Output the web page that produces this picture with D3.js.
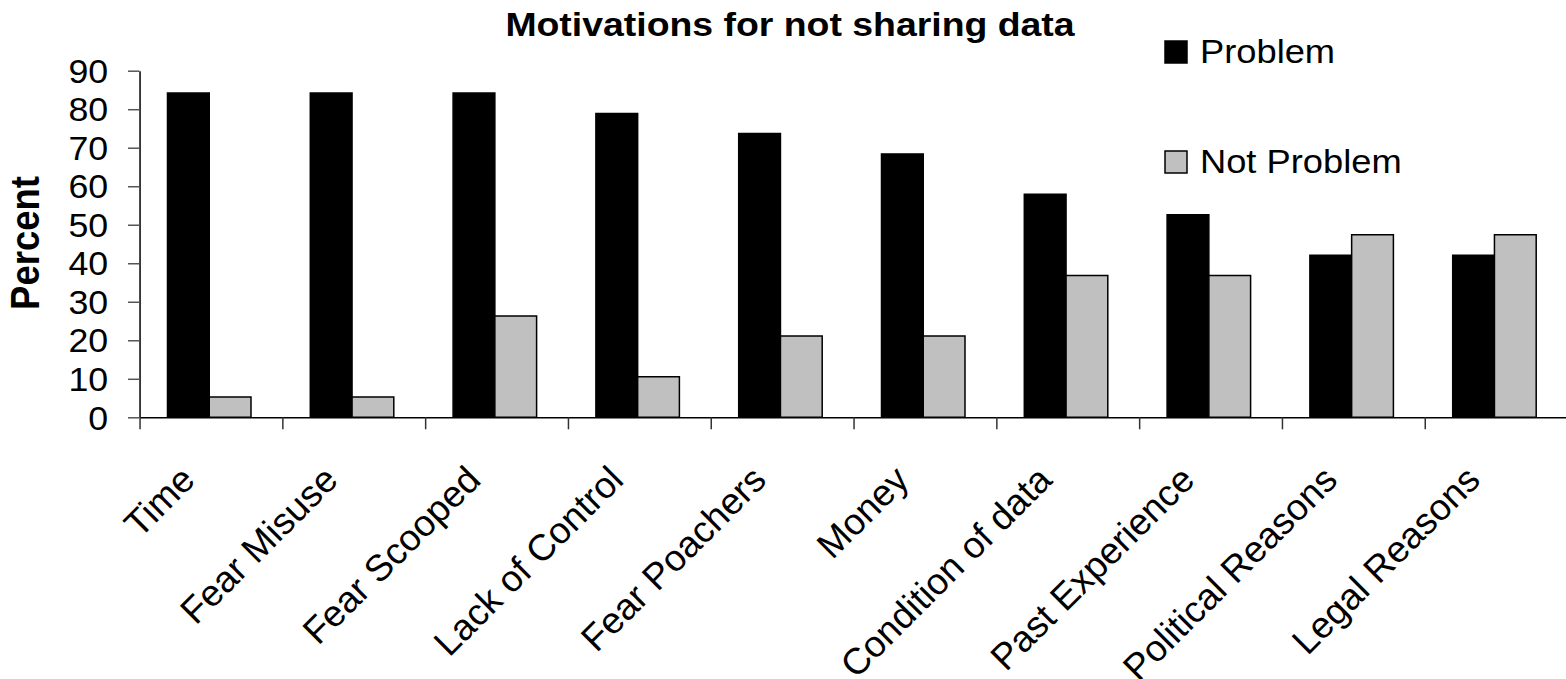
<!DOCTYPE html>
<html>
<head>
<meta charset="utf-8">
<script src="https://cdn.jsdelivr.net/npm/d3@7"></script>
<style>
  html, body { margin: 0; padding: 0; background: #fff; }
  svg { display: block; font-family: "Liberation Sans", Arial, sans-serif; }
</style>
</head>
<body>
<script>
// Survey responses: share of respondents who rated each reason a problem or not
const categories = ["Time", "Fear Misuse", "Fear Scooped", "Lack of Control", "Fear Poachers",
                    "Money", "Condition of data", "Past Experience", "Political Reasons", "Legal Reasons"];
const seriesNames = ["Problem", "Not Problem"];
const problemValues = [84.2, 84.2, 84.2, 78.9, 73.7, 68.4, 57.9, 52.6, 42.1, 42.1];
const notProblemValues = [5.3, 5.3, 26.3, 10.5, 21.1, 21.1, 36.8, 36.8, 47.4, 47.4];
const yTicks = [0, 10, 20, 30, 40, 50, 60, 70, 80, 90];
const seriesColors = ["#000000", "#c0c0c0"];

const W = 1566, H = 679;
const SX = 1.1; // horizontal stretch of the plot, title and legend

const svg = d3.select("body").append("svg").attr("width", W).attr("height", H);
const g = svg.append("g").attr("transform", `scale(${SX},1)`);

// scales (internal, unstretched units)
const x0 = d3.scaleBand().domain(categories).range([139.5 / SX, 1567.5 / SX]);
const x1 = d3.scaleBand().domain(seriesNames).range([28 / SX, 111.5 / SX]);
const y = d3.scaleLinear().domain([0, 90]).range([417.3, 70.7]);
const color = d3.scaleOrdinal().domain(seriesNames).range(seriesColors);

const rows = categories.map((c, i) => ({
  category: c,
  values: [
    { key: seriesNames[0], value: problemValues[i] },
    { key: seriesNames[1], value: notProblemValues[i] }
  ]
}));

// bars
const groups = g.append("g").selectAll("g").data(rows).join("g")
  .attr("transform", d => `translate(${x0(d.category)},0)`);
groups.selectAll("rect").data(d => d.values).join("rect")
  .attr("x", d => x1(d.key))
  .attr("y", d => y(d.value))
  .attr("width", x1.bandwidth())
  .attr("height", d => y(0) - y(d.value))
  .attr("fill", d => color(d.key))
  .attr("stroke", "#000")
  .attr("stroke-width", 1.5)
  .attr("vector-effect", "non-scaling-stroke");

// y axis
const yAxis = g.append("g")
  .attr("transform", `translate(${x0.range()[0]},0)`)
  .call(d3.axisLeft(y).tickValues(yTicks).tickSize(11.5 / SX).tickSizeOuter(0).tickPadding(18));
yAxis.select(".domain").attr("stroke", "#000").attr("stroke-width", 1.5).attr("vector-effect", "non-scaling-stroke");
yAxis.selectAll(".tick line").attr("stroke", "#555").attr("stroke-width", 1.5).attr("vector-effect", "non-scaling-stroke");
yAxis.selectAll(".tick text")
  .attr("font-family", "Liberation Sans, Arial, sans-serif")
  .attr("font-size", 32.5).attr("fill", "#000").attr("dy", "0.36em");

// x axis: ticks at category boundaries
const xi = d3.scaleLinear().domain([0, categories.length]).range(x0.range());
const xAxis = g.append("g")
  .attr("transform", `translate(0,${y(0)})`)
  .call(d3.axisBottom(xi).tickValues(d3.range(0, categories.length + 1)).tickSize(12).tickSizeOuter(0).tickFormat(""));
xAxis.select(".domain").attr("stroke", "#000").attr("stroke-width", 1.5).attr("vector-effect", "non-scaling-stroke");
xAxis.selectAll(".tick line").attr("stroke", "#333").attr("stroke-width", 1.5).attr("vector-effect", "non-scaling-stroke");

// category labels, slanted at 45 degrees (drawn in screen units)
svg.append("g").selectAll("text").data(categories).join("text")
  .attr("text-anchor", "end")
  .attr("font-size", 37)
  .attr("fill", "#000")
  .attr("transform", c => `translate(${SX * (x0(c) + x0.bandwidth() / 2) - 14},482) rotate(-45)`)
  .text(c => c);

// title
g.append("text")
  .attr("x", 790 / SX).attr("y", 36)
  .attr("text-anchor", "middle")
  .attr("font-size", 34).attr("font-weight", "bold")
  .text("Motivations for not sharing data");

// y axis title
g.append("text")
  .attr("transform", `translate(${39 / SX},243) rotate(-90)`)
  .attr("text-anchor", "middle")
  .attr("font-size", 36.5).attr("font-weight", "bold")
  .text("Percent");

// legend
const legend = g.append("g").selectAll("g").data(seriesNames).join("g")
  .attr("transform", (d, i) => `translate(${1165 / SX},${41 + i * 110})`);
legend.append("rect")
  .attr("width", 22 / SX).attr("height", 22)
  .attr("fill", d => color(d))
  .attr("stroke", "#000").attr("stroke-width", 1.5)
  .attr("vector-effect", "non-scaling-stroke");
legend.append("text")
  .attr("x", 35 / SX).attr("y", 22.3)
  .attr("font-size", 33)
  .text(d => d);
</script>
</body>
</html>
